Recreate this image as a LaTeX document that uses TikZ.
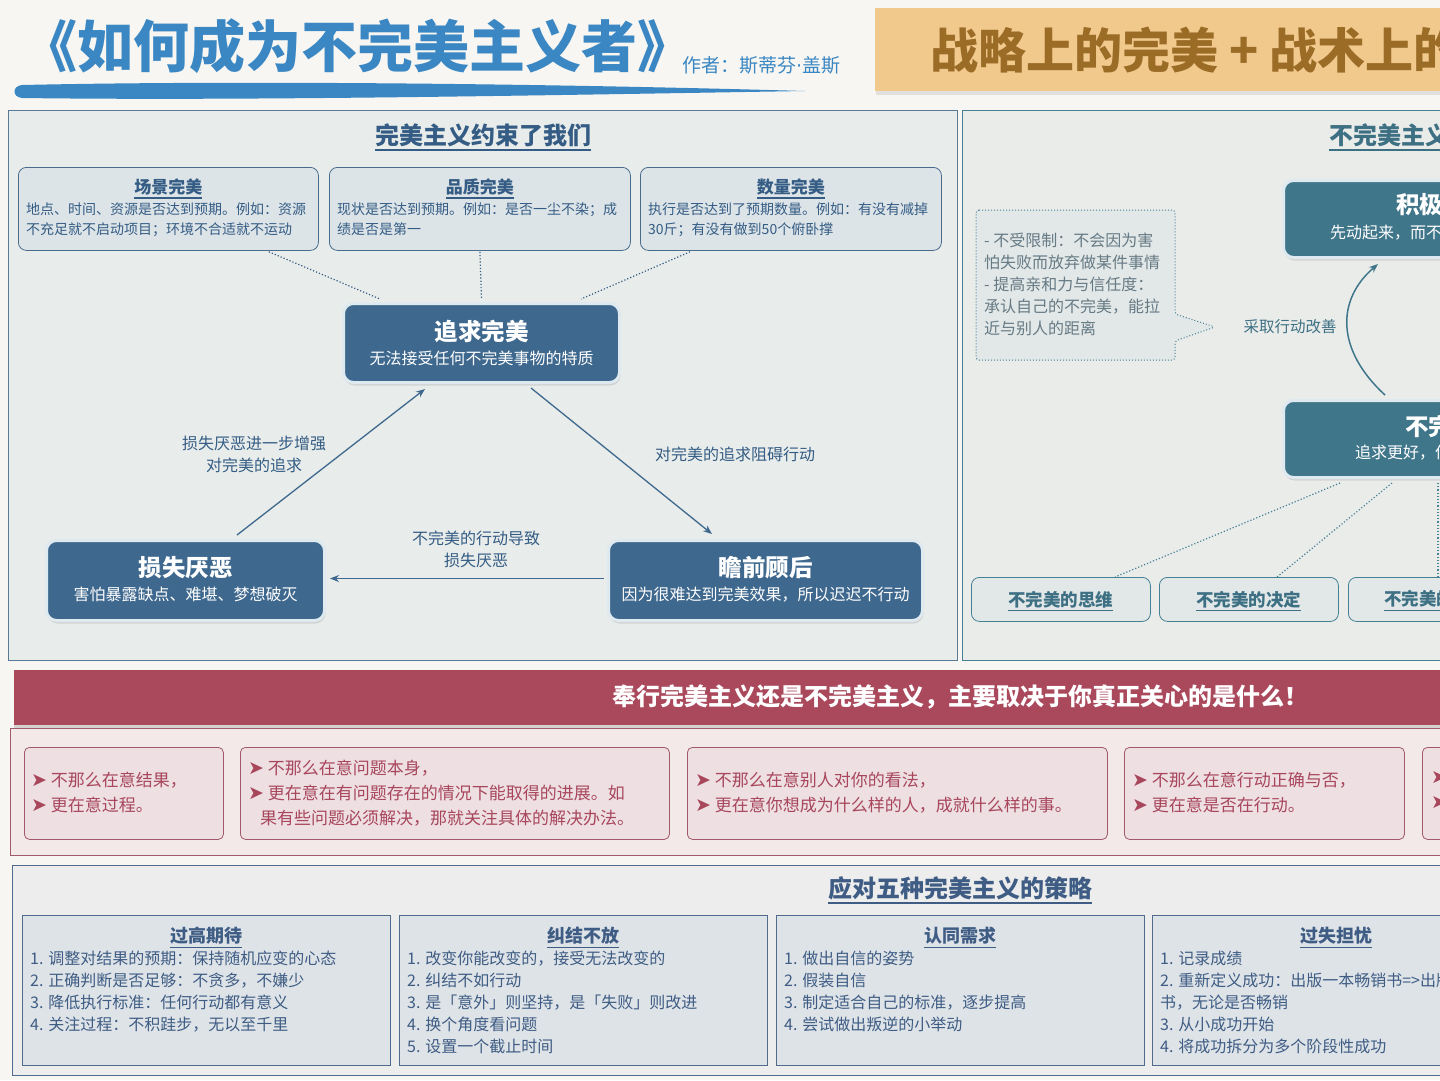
\documentclass[tikz,border=0pt]{standalone}
\usepackage{fontspec}
\setmainfont{Noto Sans CJK SC}
\newfontfamily\symfont{DejaVu Sans}
\usetikzlibrary{arrows.meta,calc,shadows}

\definecolor{paper}{RGB}{247,246,242}
\definecolor{titleblue}{RGB}{58,135,195}
\definecolor{gold}{RGB}{241,201,141}
\definecolor{goldtext}{RGB}{155,108,38}
\definecolor{leftfill}{RGB}{232,236,234}
\definecolor{leftline}{RGB}{88,122,150}
\definecolor{cardfill}{RGB}{221,228,232}
\definecolor{cardline}{RGB}{72,108,140}
\definecolor{inkblue}{RGB}{52,92,132}
\definecolor{nodeblue}{RGB}{62,104,142}
\definecolor{ringblue}{RGB}{222,233,240}
\definecolor{rightfill}{RGB}{234,236,234}
\definecolor{tealline}{RGB}{70,128,148}
\definecolor{nodeteal}{RGB}{64,118,138}
\definecolor{tealink}{RGB}{62,112,132}
\definecolor{notegrey}{RGB}{102,122,132}
\definecolor{notefill}{RGB}{226,231,232}
\definecolor{rose}{RGB}{170,72,92}
\definecolor{rosefill}{RGB}{243,233,233}
\definecolor{rosecard}{RGB}{237,223,226}
\definecolor{roseline}{RGB}{160,90,108}
\definecolor{rosetext}{RGB}{168,70,92}
\definecolor{stratfill}{RGB}{236,237,236}
\definecolor{stratline}{RGB}{80,108,140}
\definecolor{stratcard}{RGB}{222,227,231}
\definecolor{stratink}{RGB}{62,92,132}

\newcommand{\setfs}[2]{\fontsize{#1}{#2}\selectfont}
\newcommand{\ulbox}[1]{\setbox0\hbox{#1}\rlap{\copy0}\smash{\rule[-0.3em]{\wd0}{0.08em}}}
\newcommand{\rmark}{{\symfont\fontsize{19}{25}\selectfont ➤}}

\tikzset{
  card/.style={draw=cardline, fill=cardfill, line width=0.8pt, rounded corners=8pt, anchor=north west, inner sep=0pt},
  cardhead/.style={text=inkblue, font=\bfseries\setfs{17}{20}, inner sep=0pt},
  cardbody/.style={text=inkblue, font=\setfs{14}{20}, align=left, anchor=north west, inner sep=0pt},
  corebox/.style={fill=#1, draw=ringblue, line width=3pt, rounded corners=10pt, anchor=north west, inner sep=0pt,
    drop shadow={opacity=0.22, shadow xshift=1pt, shadow yshift=-3pt}},
  corehead/.style={text=white, font=\bfseries\setfs{23.5}{26}, inner sep=0pt},
  coresub/.style={text=white, font=\setfs{16}{18}, inner sep=0pt},
  flow/.style={draw=nodeblue, line width=1.3pt, -{Stealth[length=9pt,width=7pt]}},
  tealflow/.style={draw=nodeteal, line width=1.5pt, -{Stealth[length=9pt,width=7pt]}},
  flowlabel/.style={text=inkblue, font=\setfs{16}{22}, align=center, inner sep=0pt},
  dotlink/.style={draw=#1, line width=1.2pt, dotted},
  tag/.style={draw=tealline, fill=notefill, line width=0.8pt, rounded corners=8pt, anchor=north west, inner sep=0pt,
    minimum width=179pt, minimum height=44pt, text=tealink, font=\bfseries\setfs{17.5}{20}},
  rosebox/.style={draw=roseline, fill=rosecard, line width=0.8pt, rounded corners=5pt, anchor=north west, inner sep=0pt, minimum height=92pt},
  roseitems/.style={text=rosetext, font=\setfs{17}{25}, align=left, anchor=north west, inner sep=0pt},
  stratbox/.style={draw=stratline, fill=stratcard, line width=0.8pt, anchor=north west, inner sep=0pt, minimum width=368pt, minimum height=150pt},
  strathead/.style={text=stratink, font=\bfseries\setfs{18}{20}, inner sep=0pt},
  stratitems/.style={text=stratink, font=\setfs{16}{22}, align=left, anchor=north west, inner sep=0pt}
}

\begin{document}
\begin{tikzpicture}[x=1pt,y=1pt,yscale=-1,xscale=1]
%set diagram size and clip at the page edge
\useasboundingbox (0,0) rectangle (1440,1080);
\clip (0,0) rectangle (1440,1080);
\fill[paper] (0,0) rectangle (1440,1080);

%Title
\node[anchor=west, inner sep=0pt, text=titleblue, font=\bfseries\setfs{56}{60}] (booktitle) at (21,46) {《如何成为不完美主义者》};
\node[anchor=west, inner sep=0pt, text=titleblue, font=\setfs{19}{21}] (author) at (682,65) {作者：斯蒂芬{\symfont ·}盖斯};
%Shape: brush stroke
\fill[titleblue] (22,85) .. controls (250,80) and (560,84) .. (805,91) .. controls (560,95) and (250,101) .. (22,98) .. controls (12,97) and (12,86) .. (22,85) -- cycle;

%Banner
\node[fill=gold, minimum width=620pt, minimum height=83pt, anchor=north west, inner sep=0pt,
  drop shadow={opacity=0.18, shadow xshift=1pt, shadow yshift=-4pt}] (banner) at (875,8) {};
\node[anchor=west, inner sep=0pt, text=goldtext, font=\bfseries\setfs{48}{50}] (bannertext) at (930,50) {战略上的完美 + 战术上的};

%Left panel
\draw[fill=leftfill, draw=leftline, line width=0.8pt] (8,110) rectangle (957,660);
\node[text=inkblue, font=\bfseries\setfs{24}{26}, inner sep=0pt] (lefthead) at (483,135) {\ulbox{完美主义约束了我们}};

\node[card, minimum width=300pt, minimum height=83pt] (scene) at (18,167) {};
\node[cardhead] (scenet) at ($(scene.north)+(0,20)$) {\ulbox{场景完美}};
\node[cardbody] (scenes) at ($(scene.north west)+(8,36)$) {地点、时间、资源是否达到预期。例如：资源\\不充足就不启动项目；环境不合适就不运动};

\node[card, minimum width=301pt, minimum height=83pt] (quality) at (329,167) {};
\node[cardhead] (qualityt) at ($(quality.north)+(0,20)$) {\ulbox{品质完美}};
\node[cardbody] (qualitys) at ($(quality.north west)+(8,36)$) {现状是否达到预期。例如：是否一尘不染；成\\绩是否是第一};

\node[card, minimum width=301pt, minimum height=83pt] (quantity) at (640,167) {};
\node[cardhead] (quantityt) at ($(quantity.north)+(0,20)$) {\ulbox{数量完美}};
\node[cardbody] (quantitys) at ($(quantity.north west)+(8,36)$) {执行是否达到了预期数量。例如：有没有减掉\\30斤；有没有做到50个俯卧撑};

%Core loop
\node[corebox=nodeblue, minimum width=276pt, minimum height=79pt] (pursue) at (342,302) {};
\node[corehead] (pursuet) at ($(pursue.center)+(0,-11.5)$) {追求完美};
\node[coresub] (pursues) at ($(pursue.center)+(0,15.5)$) {无法接受任何不完美事物的特质};

\node[corebox=nodeblue, minimum width=278pt, minimum height=80pt] (aversion) at (45,539) {};
\node[corehead] (aversiont) at ($(aversion.center)+(0,-13)$) {损失厌恶};
\node[coresub] (aversions) at ($(aversion.center)+(0,14)$) {害怕暴露缺点、难堪、梦想破灭};

\node[corebox=nodeblue, minimum width=314pt, minimum height=80pt] (hesitate) at (607,539) {};
\node[corehead] (hesitatet) at ($(hesitate.center)+(0,-13)$) {瞻前顾后};
\node[coresub] (hesitates) at ($(hesitate.center)+(0,14)$) {因为很难达到完美效果，所以迟迟不行动};

%Straight Lines
\draw[dotlink=inkblue] ($(scene.south east)+(-50,1)$) -- ($(pursue.north west)+(38,-3)$);
\draw[dotlink=inkblue] ($(quality.south)+(0,1)$) -- ($(pursue.north)+(0,-3)$);
\draw[dotlink=inkblue] ($(quantity.south west)+(50,1)$) -- ($(pursue.north east)+(-40,-3)$);

\draw[flow] ($(aversion.north west)+(192,-4)$) -- ($(pursue.south west)+(83,5)$);
\draw[flow] ($(pursue.south west)+(189,4)$) -- ($(hesitate.north west)+(105,-5)$);
\draw[flow] ($(hesitate.west)+(-3,-2)$) -- ($(aversion.east)+(4,-2)$);

\node[flowlabel] (lbfeed) at (254,454) {损失厌恶进一步增强\\对完美的追求};
\node[flowlabel] (lbblock) at (735,454) {对完美的追求阻碍行动};
\node[flowlabel] (lbcause) at (476,549.5) {不完美的行动导致\\损失厌恶};

%Right panel
\draw[fill=rightfill, draw=tealline, line width=0.8pt] (962,110) rectangle (1450,660);
\node[anchor=west, inner sep=0pt, text=tealink, font=\bfseries\setfs{24}{26}] (righthead) at (1329,135) {\ulbox{不完美主义}};

\node[corebox=nodeteal, minimum width=300pt, minimum height=77pt] (active) at (1282,179) {};
\node[corehead, anchor=west] (activet) at (1396,205) {积极};
\node[coresub, anchor=west] (actives) at (1330,233) {先动起来，而不};

\node[corebox=nodeteal, minimum width=300pt, minimum height=77pt] (imperf) at (1282,399) {};
\node[corehead, anchor=west] (imperft) at (1405,426) {不完};
\node[coresub, anchor=west] (imperfs) at (1355,453) {追求更好，但};

\draw[tealflow] ($(imperf.north west)+(103,-4)$) .. controls (1336,350) and (1336,300) .. ($(active.south west)+(96,5)$);
\node[text=tealink, font=\setfs{15.5}{18}, inner sep=0pt] (lbact) at (1290,327) {采取行动改善};

%Shape: callout
\draw[fill=notefill, draw=tealline, dotted, line width=1pt, rounded corners=3pt] (976,210) -- (1175,210) -- (1175,314) -- (1215,327) -- (1175,341) -- (1175,360) -- (976,360) -- cycle;
\node[anchor=north west, align=left, inner sep=0pt, text=notegrey, font=\setfs{16}{22}] (merits) at (984,233) {- 不受限制：不会因为害\\怕失败而放弃做某件事情\\- 提高亲和力与信任度：\\承认自己的不完美，能拉\\近与别人的距离};

\node[tag] (think) at (971,577) {\ulbox{不完美的思维}};
\node[tag] (decide) at (1159,577) {\ulbox{不完美的决定}};
\node[tag] (tagthree) at (1348,577) {};
\node[anchor=west, inner sep=0pt, text=tealink, font=\bfseries\setfs{17.5}{20}] (tagthreet) at (1384,599) {\ulbox{不完美的}};

\draw[dotlink=tealline] ($(imperf.south west)+(58,4)$) -- ($(think.north west)+(144,0)$);
\draw[dotlink=tealline] ($(imperf.south west)+(110,4)$) -- ($(decide.north west)+(118,0)$);
\draw[dotlink=tealline] ($(imperf.south west)+(156,4)$) -- ($(tagthree.north west)+(90,0)$);

%Care band
\draw[fill=rosefill, draw=roseline, line width=0.8pt] (10,728) rectangle (1450,855);
\node[fill=rose, minimum width=1440pt, minimum height=55pt, anchor=north west, inner sep=0pt,
  drop shadow={opacity=0.3, shadow xshift=0pt, shadow yshift=-3pt}] (careband) at (14,670) {};
\node[text=white, font=\bfseries\setfs{24}{26}, inner sep=0pt] (carehead) at (960,697) {奉行完美主义还是不完美主义，主要取决于你真正关心的是什么！};

\node[rosebox, minimum width=199pt] (careone) at (24,747) {};
\node[roseitems] (careonet) at (31,771.5) {\rmark\ 不那么在意结果，\\\rmark\ 更在意过程。};
\node[rosebox, minimum width=429pt] (caretwo) at (240,747) {};
\node[roseitems] (caretwot) at (248,759.5) {\rmark\ 不那么在意问题本身，\\\rmark\ 更在意在有问题存在的情况下能取得的进展。如\\\hspace*{12pt}果有些问题必须解决，那就关注具体的解决办法。};
\node[rosebox, minimum width=420pt] (carethree) at (687,747) {};
\node[roseitems] (carethreet) at (695,771.5) {\rmark\ 不那么在意别人对你的看法，\\\rmark\ 更在意你想成为什么样的人，成就什么样的事。};
\node[rosebox, minimum width=280pt] (carefour) at (1124,747) {};
\node[roseitems] (carefourt) at (1132,771.5) {\rmark\ 不那么在意行动正确与否，\\\rmark\ 更在意是否在行动。};
\node[rosebox, minimum width=200pt] (carefive) at (1422,747) {};
\node[roseitems] (carefivet) at (1431,771.5) {\rmark\\\rmark};

%Strategies
\draw[fill=stratfill, draw=stratline, line width=0.8pt] (12,865) rectangle (1450,1075);
\node[text=stratink, font=\bfseries\setfs{24}{26}, inner sep=0pt] (strathead) at (960,888) {\ulbox{应对五种完美主义的策略}};

\node[stratbox] (high) at (22,915) {};
\node[strathead] (hight) at ($(high.north)+(0,21)$) {\ulbox{过高期待}};
\node[stratitems] (highs) at ($(high.north west)+(8,36)$) {1. 调整对结果的预期：保持随机应变的心态\\2. 正确判断是否足够：不贪多，不嫌少\\3. 降低执行标准：任何行动都有意义\\4. 关注过程：不积跬步，无以至千里};

\node[stratbox] (stuck) at (399,915) {};
\node[strathead] (stuckt) at ($(stuck.north)+(0,21)$) {\ulbox{纠结不放}};
\node[stratitems] (stucks) at ($(stuck.north west)+(8,36)$) {1. 改变你能改变的，接受无法改变的\\2. 纠结不如行动\\3. 是「意外」则坚持，是「失败」则改进\\4. 换个角度看问题\\5. 设置一个截止时间};

\node[stratbox] (approval) at (776,915) {};
\node[strathead] (approvalt) at ($(approval.north)+(0,21)$) {\ulbox{认同需求}};
\node[stratitems] (approvals) at ($(approval.north west)+(8,36)$) {1. 做出自信的姿势\\2. 假装自信\\3. 制定适合自己的标准，逐步提高\\4. 尝试做出叛逆的小举动};

\node[stratbox] (worry) at (1152,915) {};
\node[strathead] (worryt) at ($(worry.north)+(0,21)$) {\ulbox{过失担忧}};
\node[stratitems] (worrys) at ($(worry.north west)+(8,36)$) {1. 记录成绩\\2. 重新定义成功：出版一本畅销书=>出版\\书，无论是否畅销\\3. 从小成功开始\\4. 将成功拆分为多个阶段性成功};

\end{tikzpicture}
\end{document}
